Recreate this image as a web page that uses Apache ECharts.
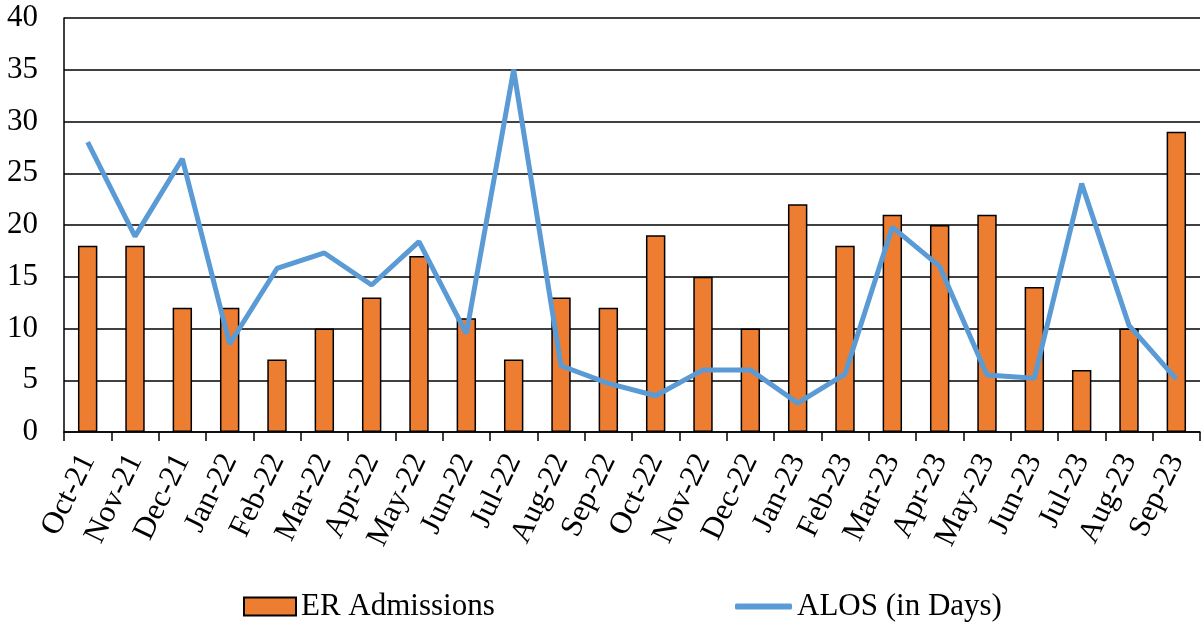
<!DOCTYPE html>
<html>
<head>
<meta charset="utf-8">
<script src="https://cdn.jsdelivr.net/npm/echarts@6/dist/echarts.min.js"></script>
<style>
  html, body { margin: 0; padding: 0; background: #fff; }
  #main { width: 1202px; height: 624px; }
</style>
</head>
<body>
<div id="main"></div>
<script>
var months = ['Oct-21', 'Nov-21', 'Dec-21', 'Jan-22', 'Feb-22', 'Mar-22', 'Apr-22', 'May-22',
    'Jun-22', 'Jul-22', 'Aug-22', 'Sep-22', 'Oct-22', 'Nov-22', 'Dec-22', 'Jan-23',
    'Feb-23', 'Mar-23', 'Apr-23', 'May-23', 'Jun-23', 'Jul-23', 'Aug-23', 'Sep-23'];
var erAdmissions = [18, 18, 12, 12, 7, 10, 13, 17, 11, 7, 13, 12, 19, 15, 10, 22, 18, 21, 20, 21, 14, 6, 10, 29];
var alosDays = [28, 18.9, 26.4, 8.5, 15.8, 17.3, 14.2, 18.4, 9.5, 35, 6.4, 4.7, 3.5, 6, 6, 2.8,
    5.6, 19.8, 16, 5.5, 5.2, 24, 10.3, 5.1];

var chart = echarts.init(document.getElementById('main'));
var font = 'Liberation Serif';
var legendText = { fontFamily: font, fontSize: 31, color: '#000' };

var option = {
    animation: false,
    textStyle: { fontFamily: font, color: '#000' },
    grid: { left: 64, right: 2, top: 18, bottom: 192 },
    legend: [
        {
            left: 243,
            top: 591,
            padding: 0,
            itemWidth: 52,
            itemHeight: 18,
            textStyle: legendText,
            data: [{ name: 'ER Admissions', icon: 'rect' }]
        },
        {
            left: 735,
            top: 591,
            padding: 0,
            itemWidth: 57,
            itemHeight: 6,
            textStyle: legendText,
            data: [{ name: 'ALOS (in Days)', icon: 'roundRect' }]
        }
    ],
    xAxis: {
        type: 'category',
        data: months,
        boundaryGap: true,
        axisLine: { lineStyle: { color: '#000', width: 1.5 } },
        axisTick: { show: true, length: 9, lineStyle: { color: '#000', width: 1.5 } },
        axisLabel: {
            rotate: 64,
            interval: 0,
            margin: 24,
            fontSize: 31,
            color: '#000',
            fontFamily: font
        }
    },
    yAxis: {
        type: 'value',
        min: 0,
        max: 40,
        interval: 5,
        axisLine: { show: true, lineStyle: { color: '#000', width: 1.5 } },
        axisTick: { show: false },
        splitLine: { lineStyle: { color: '#000', width: 1.5 } },
        axisLabel: { fontSize: 31, color: '#000', margin: 26, fontFamily: font }
    },
    series: [
        {
            name: 'ER Admissions',
            type: 'bar',
            data: erAdmissions,
            barWidth: '41%',
            itemStyle: { color: '#ED7D31', borderColor: '#000', borderWidth: 1.5 }
        },
        {
            name: 'ALOS (in Days)',
            type: 'line',
            data: alosDays,
            symbol: 'none',
            lineStyle: { color: '#5B9BD5', width: 5 },
            itemStyle: { color: '#5B9BD5' }
        }
    ]
};
chart.setOption(option);
</script>
</body>
</html>
